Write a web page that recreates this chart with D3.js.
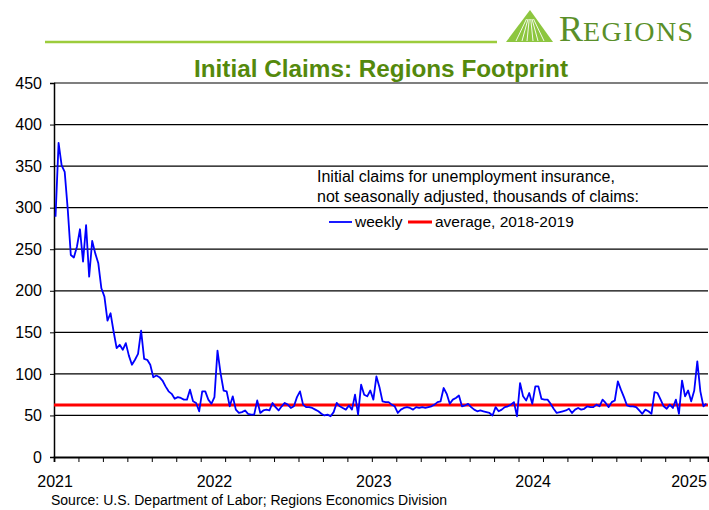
<!DOCTYPE html>
<html>
<head>
<meta charset="utf-8">
<script src="https://cdn.jsdelivr.net/npm/d3@7"></script>
<style>
  body { margin: 0; background: #fff; }
  svg { display: block; font-family: "Liberation Sans", Arial, sans-serif; }
</style>
</head>
<body>
<div id="chart"></div>
<script>
// weekly initial claims, thousands, week ending 2021-01-02 onward
var firstWeek = "2021-01-02";
var weekly = [
  289, 378, 351, 343, 298, 243, 240, 253, 274, 235, 279, 217, 260, 245, 233, 203,
  193, 164, 173, 151, 131, 135, 129, 137, 122, 111, 117, 124, 152, 118, 117, 111,
  96, 98, 96, 92, 85, 79, 76, 70, 72, 71, 69, 69, 81, 67, 65, 55,
  79, 79, 69, 64, 72, 128, 101, 80, 79, 61, 73, 57, 53, 54, 56, 52,
  51, 51, 68, 53, 56, 57, 56, 65, 60, 56, 61, 65, 63, 59, 61, 72,
  79, 63, 60, 60, 59, 57, 55, 52, 50, 51, 49, 54, 65, 61, 59, 57,
  62, 57, 75, 51, 87, 75, 73, 80, 69, 97, 84, 67, 66, 66, 63, 61,
  53, 57, 59, 60, 59, 57, 60, 59, 60, 59, 60, 61, 63, 66, 67, 83,
  76, 64, 69, 71, 74, 61, 62, 64, 60, 57, 55, 56, 55, 54, 53, 50,
  60, 55, 57, 60, 61, 63, 66, 49, 89, 73, 68, 77, 64, 85, 85, 70,
  69, 69, 64, 58, 53, 54, 55, 56, 58, 53, 57, 59, 57, 58, 61, 60,
  60, 63, 61, 69, 65, 60, 66, 68, 91, 81, 72, 62, 61, 61, 60, 56,
  52, 57, 55, 52, 78, 77, 69, 61, 58, 63, 59, 69, 52, 92, 73, 80,
  67, 80, 115, 79, 61, 64
];
var average = 62.5; // 2018-2019 average
var yTicks = [0, 50, 100, 150, 200, 250, 300, 350, 400, 450];
var yearLabels = ["2021", "2022", "2023", "2024", "2025"];
var noteLines = ["Initial claims for unemployment insurance,", "not seasonally adjusted, thousands of claims:"];
var legendLabels = ["weekly", "average, 2018-2019"];

var width = 709, height = 510;
var margin = { top: 83, right: 1, bottom: 53, left: 54 };

var parse = d3.timeParse("%Y-%m-%d");
var start = parse(firstWeek);
var data = weekly.map(function(v, i) { return { date: d3.timeWeek.offset(start, i), value: v }; });
var last = data[data.length - 1].date;

var svg = d3.select("#chart").append("svg")
    .attr("width", width)
    .attr("height", height);

var x = d3.scaleTime()
    .domain([d3.timeHour.offset(start, -84), d3.timeHour.offset(last, 84)])
    .range([margin.left, width - margin.right]);

var y = d3.scaleLinear()
    .domain([0, 450])
    .range([height - margin.bottom, margin.top]);

// header rule + logo
var green = "#54890c";
svg.append("line")
    .attr("x1", 45).attr("x2", 497)
    .attr("y1", 42).attr("y2", 42)
    .attr("stroke", "#9ccc3c").attr("stroke-width", 2.5);

var logo = svg.append("g").attr("transform", "translate(506,10)");
logo.append("path")
    .attr("d", "M24,0 L47,32 L0,32 Z")
    .attr("fill", "#8dc63f");
[-14, -8, -3, 3, 8, 14].forEach(function(dx) {
    logo.append("line")
        .attr("x1", 24 + dx).attr("y1", 31)
        .attr("x2", 24 + dx * 0.25).attr("y2", 9)
        .attr("stroke", "#fff").attr("stroke-width", 0.9);
});
var brand = svg.append("text")
    .attr("x", 559).attr("y", 41)
    .attr("font-family", "'Liberation Serif', 'DejaVu Serif', serif")
    .attr("fill", "#5a8f29");
brand.append("tspan").attr("font-size", 36).text("R");
brand.append("tspan").attr("font-size", 28).attr("letter-spacing", 1.5).text("EGIONS");

// title
svg.append("text")
    .attr("x", 381).attr("y", 77)
    .attr("text-anchor", "middle")
    .attr("font-size", 23).attr("font-weight", "bold")
    .attr("textLength", 374).attr("lengthAdjust", "spacingAndGlyphs")
    .attr("fill", green)
    .text("Initial Claims: Regions Footprint");

// gridlines
svg.append("g")
    .selectAll("line")
    .data(yTicks.filter(function(d) { return d > 0; }))
    .enter().append("line")
    .attr("x1", margin.left).attr("x2", width - margin.right)
    .attr("y1", function(d) { return y(d); })
    .attr("y2", function(d) { return y(d); })
    .attr("stroke", "#000").attr("stroke-width", 1.2);

// y axis
var yAxis = svg.append("g")
    .attr("transform", "translate(" + margin.left + ",0)")
    .call(d3.axisLeft(y).tickValues(yTicks).tickSize(4).tickPadding(8));
yAxis.select(".domain").attr("stroke-width", 1.5);
yAxis.selectAll("text").attr("font-size", 16).attr("fill", "#000")
    .attr("font-family", "'Liberation Sans', Arial, sans-serif");

// x axis: ticks every 8 weeks
var tickDates = d3.range(0, data.length, 8).map(function(i) { return d3.timeHour.offset(data[i].date, -84); });
var xAxis = svg.append("g")
    .attr("transform", "translate(0," + y(0) + ")")
    .call(d3.axisBottom(x).tickValues(tickDates).tickSize(5).tickFormat(""));
xAxis.select(".domain").attr("stroke-width", 1.8);

svg.append("g")
    .selectAll("text")
    .data(yearLabels)
    .enter().append("text")
    .attr("x", function(d) { return Math.min(x(parse(d + "-01-01")), width - 20); })
    .attr("y", 487)
    .attr("text-anchor", "middle")
    .attr("font-size", 16)
    .text(function(d) { return d; });

// average line
svg.append("line")
    .attr("x1", margin.left).attr("x2", width - margin.right)
    .attr("y1", y(average)).attr("y2", y(average))
    .attr("stroke", "#ff0000").attr("stroke-width", 3);

// weekly series
var line = d3.line()
    .x(function(d) { return x(d.date); })
    .y(function(d) { return y(d.value); });
svg.append("path")
    .datum(data)
    .attr("d", line)
    .attr("fill", "none")
    .attr("stroke", "#0000ff")
    .attr("stroke-width", 1.8)
    .attr("stroke-linejoin", "round");

// note + legend
svg.append("g")
    .selectAll("text")
    .data(noteLines)
    .enter().append("text")
    .attr("x", 317)
    .attr("y", function(d, i) { return 182 + i * 20; })
    .attr("font-size", 16)
    .text(function(d) { return d; });

var legend = svg.append("g").attr("transform", "translate(329,222)");
legend.append("line").attr("x1", 0).attr("x2", 23).attr("stroke", "#0000ff").attr("stroke-width", 1.8);
legend.append("text").attr("x", 26).attr("y", 5).attr("font-size", 15.5).text(legendLabels[0]);
legend.append("line").attr("x1", 79).attr("x2", 103).attr("stroke", "#ff0000").attr("stroke-width", 3);
legend.append("text").attr("x", 106).attr("y", 5).attr("font-size", 15.5).text(legendLabels[1]);

// source
svg.append("text")
    .attr("x", 51).attr("y", 505)
    .attr("font-size", 14)
    .text("Source: U.S. Department of Labor; Regions Economics Division");
</script>
</body>
</html>
